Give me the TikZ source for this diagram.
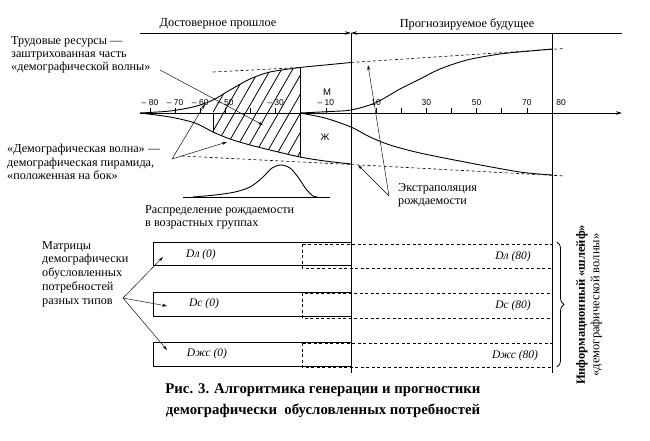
\documentclass[tikz,border=0pt]{standalone}
\usepackage{fontspec}
\setmainfont{Liberation Serif}
\newfontfamily\lsans{Liberation Sans}
\usetikzlibrary{arrows.meta,decorations.pathreplacing}
\begin{document}
\begin{tikzpicture}[x=1pt,y=-1pt,
  lbl/.style={font=\fontsize{12.2}{13.2}\selectfont, align=left, inner sep=0pt},
  hdr/.style={font=\fontsize{12.3}{13}\selectfont, inner sep=0pt},
  ticklbl/.style={font=\lsans\fontsize{8.5}{9}\selectfont, inner sep=0pt},
  dlbl/.style={font=\itshape\fontsize{11.5}{13}\selectfont, inner sep=0pt},
  ptr/.style={line width=0.45pt, -{Stealth[length=5pt,width=3pt]}},
  main/.style={line width=0.9pt},
  ext/.style={line width=0.6pt, dash pattern=on 3pt off 2.5pt},
  frame/.style={line width=0.9pt},
  arr/.style={line width=0.9pt, -{Stealth[length=6pt,width=3.5pt]}},
  capt/.style={font=\bfseries\fontsize{14.8}{16}\selectfont, inner sep=0pt}]
\useasboundingbox (0,0) rectangle (650,440);

% headers
\node[hdr] (past) at (218,24) {Достоверное прошлое};
\node[hdr] (fut) at (467,24) {Прогнозируемое будущее};
\coordinate (tl) at (140,33);
\coordinate (tm) at (351,33);
\coordinate (tr) at (622,33);
\draw[arr] (tl) -- (tm);
\draw[arr] (tr) -- (tm);

% dividers
\coordinate (db) at (351,373);
\coordinate (rt) at (552,33);
\coordinate (rb) at (552,373);
\draw[frame] (tm) -- (db);
\draw[frame] (rt) -- (rb);

% axis
\coordinate (ax0) at (140,113);
\coordinate (ax1) at (622,113);
\draw[arr] (ax0) -- (ax1);
\foreach \k in {1,...,8} {\draw[line width=0.6pt] ({351-25.125*\k},108) -- ({351-25.125*\k},113);}
\foreach \k in {1,...,7} {\draw[line width=0.6pt] ({351+25.125*\k},108) -- ({351+25.125*\k},113);}
\foreach \v/\k in {80/8,70/7,60/6,50/5,30/3,10/1} {\node[ticklbl] at ({351-25.125*\k},103) {– \v};}
\foreach \v/\k in {10/1,30/3,50/5,70/7} {\node[ticklbl] at ({351+25.125*\k},103) {\v};}
\node[ticklbl] (l80) at (561,103) {80};
\node[font=\lsans\fontsize{9.5}{10}\selectfont, inner sep=0pt] (mM) at (327,92) {М};
\node[font=\lsans\fontsize{9.5}{10}\selectfont, inner sep=0pt] (mZ) at (325,137) {Ж};

% hatched region
\begin{scope}
\clip (213,40) rectangle (300,200);
\clip plot[smooth] coordinates {(140,113) (170,111) (195,106.5) (213,100) (230,90) (250,79) (270,72) (300,67.5) (325,65) (351,62.5)}
  -- (351,164) -- plot[smooth] coordinates {(351,164) (325,161) (300,157) (270,150) (250,145) (230,139) (213,132) (195,123) (170,117) (140,113)} -- cycle;
\foreach \s in {130,141,...,330} {\draw[line width=0.8pt] (\s,180) -- ({\s+69},60);}
\end{scope}
\draw[main] (300,67.5) -- (300,157);
\draw[main] (213,113) -- (213,132);

% past curves
\draw[main] plot[smooth] coordinates {(140,113) (170,111) (195,106.5) (213,100) (230,90) (250,79) (270,72) (300,67.5) (325,65) (351,62.5)};
\draw[main] plot[smooth] coordinates {(140,113) (170,117) (195,123) (213,132) (230,139) (250,145) (270,150) (300,157) (325,161) (351,164)};
% extrapolation dashed lines
\draw[ext] (213,72) -- (300,67.5);
\draw[ext] (351,62.5) -- (565,48.5);
\draw[ext] (182,156) -- (351,164.5);
\draw[ext] (351,164.5) -- (565,176);
% future curves
\draw[main] plot[smooth] coordinates {(300,113) (330,111.5) (351,110) (375,103) (400,89) (420,79) (440,69) (467,60) (500,54) (530,51) (552,49)};
\draw[main] plot[smooth] coordinates {(300,113) (325,118) (351,127) (370,137) (390,145) (420,153) (470,163) (520,172) (552,175)};

% birth distribution
\draw[line width=0.7pt] (183,197) -- (330,197);
\draw[main] plot[smooth] coordinates {(193,197) (215,195) (235,192) (250,187) (262,178) (272,168) (281,165) (290,168) (298,177) (306,189) (313,196) (318,197)};
\node[lbl, anchor=west] (dist) at (145,217) {Распределение рождаемости\\в возрастных группах};

% left labels
\node[lbl, anchor=west] (labor) at (11,55) {Трудовые ресурсы —\\заштрихованная часть\\«демографической волны»};
\node[lbl, anchor=west] (wave) at (7,162) {«Демографическая волна» —\\демографическая пирамида,\\«положенная на бок»};
\node[lbl, anchor=west, font=\fontsize{12.2}{13.8}\selectfont] (matr) at (42,274) {Матрицы\\демографически\\обусловленных\\потребностей\\разных типов};
\node[lbl, anchor=west] (extr) at (398,195) {Экстраполяция\\рождаемости};

% pointers
\coordinate (p1a) at (160,70);
\coordinate (p1b) at (263,125);
\draw[ptr] (p1a) -- (p1b);
\coordinate (p2a) at (172,159);
\coordinate (p2b) at (205,104);
\coordinate (p2c) at (227,142);
\draw[ptr] (p2a) -- (p2b);
\draw[ptr] (p2a) -- (p2c);
\coordinate (p3a) at (389,196);
\coordinate (p3b) at (358,165);
\coordinate (p3c) at (368,65);
\draw[ptr] (p3a) -- (p3b);
\draw[ptr] (p3a) -- (p3c);

% matrices
\foreach \t/\b/\dt/\db in {242/265/244/268,292/316/293/318,342/366/343/367} {
  \draw[frame] (153,\t) rectangle (351,\b);
  \draw[ext] (302,\dt) rectangle (552,\db);
}
\node[dlbl] (d10) at (201,255) {Dл (0)};
\node[dlbl] (d20) at (204,304) {Dс (0)};
\node[dlbl] (d30) at (207,354) {Dжс (0)};
\node[dlbl] (d18) at (513,257) {Dл (80)};
\node[dlbl] (d28) at (513,306) {Dс (80)};
\node[dlbl] (d38) at (515,356) {Dжс (80)};
\coordinate (p4a) at (123,298);
\coordinate (p4b) at (163,257);
\coordinate (p4c) at (167,306);
\coordinate (p4d) at (167,350);
\draw[ptr] (p4a) -- (p4b);
\draw[ptr] (p4a) -- (p4c);
\draw[ptr] (p4a) -- (p4d);

% brace and rotated text
\coordinate (br1) at (557,242);
\coordinate (br2) at (557,367);
\draw[line width=0.8pt, decorate, decoration={brace, amplitude=7pt}] (br1) -- (br2);
\node[font=\fontsize{12.5}{14.5}\selectfont, rotate=90, align=center, inner sep=0pt] (info) at (589,305) {\textbf{Информационный «шлейф»}\\«демографической волны»};

% caption
\node[capt] (cap1) at (323,390) {Рис. 3. Алгоритмика генерации и прогностики};
\node[capt] (cap2) at (323,411) {демографически\ \ обусловленных потребностей};
\end{tikzpicture}
\end{document}
